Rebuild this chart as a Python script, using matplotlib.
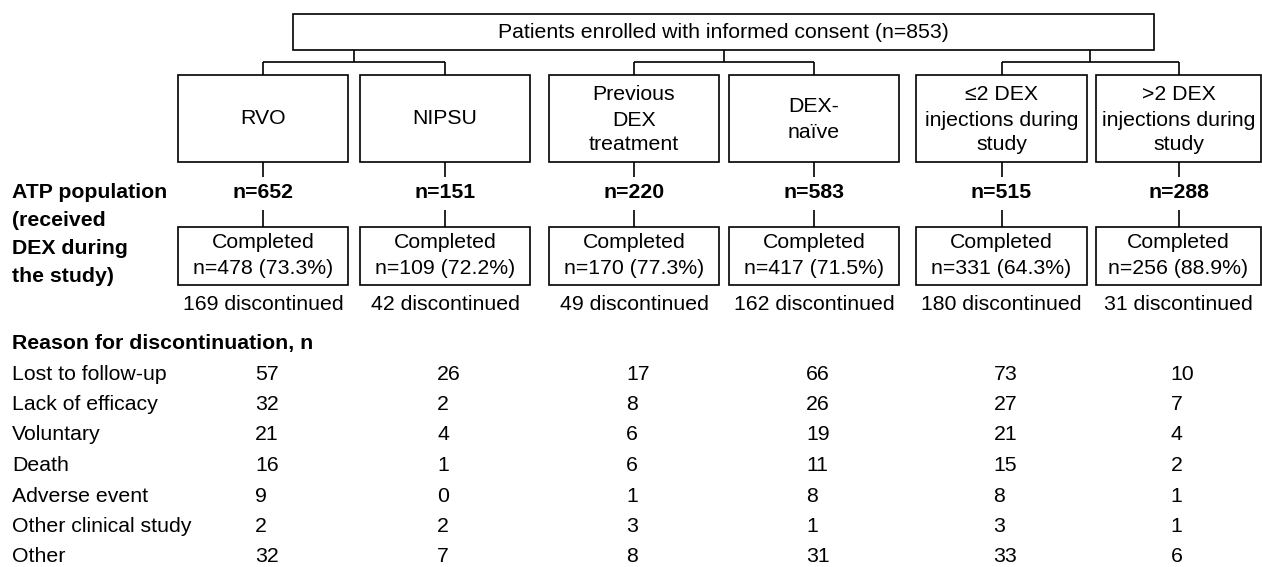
# flow chart of patient disposition by subgroup
import matplotlib.pyplot as plt
from matplotlib.patches import Rectangle

plt.rcParams['font.family'] = ['Liberation Sans', 'DejaVu Sans']

# Data
enrolled_label = "Patients enrolled with informed consent (n=853)"
groups = [["RVO"], ["NIPSU"], ["Previous", "DEX", "treatment"], ["DEX-", "naïve"],
          ["≤2 DEX", "injections during", "study"], [">2 DEX", "injections during", "study"]]
atp_n = [652, 151, 220, 583, 515, 288]
completed_n = [478, 109, 170, 417, 331, 256]
completed_pct = [73.3, 72.2, 77.3, 71.5, 64.3, 88.9]
discontinued = [169, 42, 49, 162, 180, 31]
atp_label = ["ATP population", "(received", "DEX during", "the study)"]

reasons = ["Lost to follow-up", "Lack of efficacy", "Voluntary", "Death",
           "Adverse event", "Other clinical study", "Other"]
lost_to_followup = [57, 26, 17, 66, 73, 10]
lack_of_efficacy = [32, 2, 8, 26, 27, 7]
voluntary = [21, 4, 6, 19, 21, 4]
death = [16, 1, 6, 11, 15, 2]
adverse_event = [9, 0, 1, 8, 8, 1]
other_clinical_study = [2, 2, 3, 1, 3, 1]
other = [32, 7, 8, 31, 33, 6]
reason_counts = [lost_to_followup, lack_of_efficacy, voluntary, death,
                 adverse_event, other_clinical_study, other]

# Layout (pixel coordinates, y downwards)
fig = plt.figure(figsize=(12.62, 5.67), dpi=100)
ax = fig.add_axes([0, 0, 1, 1])
ax.set_xlim(0, 1262)
ax.set_ylim(567, 0)
ax.axis('off')

fs = 15.3
lw = 1.2
box_left = [178, 360, 549, 729, 916, 1096]
box_w = [170, 170, 170, 170, 171, 165]
centers = [l + w / 2 for l, w in zip(box_left, box_w)]


def box(x0, y0, w, h):
    ax.add_patch(Rectangle((x0, y0), w, h, fill=False, ec='black', lw=lw))


def line(xs, ys):
    ax.plot(xs, ys, color='black', lw=lw, solid_capstyle='butt')


# top box
box(293, 14, 861, 36)
ax.text(723, 32, enrolled_label, ha='center', va='center', fontsize=fs)

# pair connectors
for i in range(0, 6, 2):
    mid = (centers[i] + centers[i + 1]) / 2
    line([mid, mid], [50, 62])
    line([centers[i], centers[i + 1]], [62, 62])
    line([centers[i], centers[i]], [62, 75])
    line([centers[i + 1], centers[i + 1]], [62, 75])

for i, c in enumerate(centers):
    # category box
    box(box_left[i], 75, box_w[i], 87)
    lines = groups[i]
    ys = {1: [119], 2: [106, 132], 3: [94, 120, 145]}[len(lines)]
    for t, y in zip(lines, ys):
        ax.text(c, y, t, ha='center', va='center', fontsize=fs)
    line([c, c], [162, 177])
    ax.text(c, 193, f"n={atp_n[i]}", ha='center', va='center', fontsize=fs, fontweight='bold')
    line([c, c], [210, 227])
    # completed box
    box(box_left[i], 227, box_w[i], 58)
    ax.text(c, 243, "Completed", ha='center', va='center', fontsize=fs)
    ax.text(c, 268, f"n={completed_n[i]} ({completed_pct[i]}%)", ha='center', va='center', fontsize=fs)
    ax.text(c, 305, f"{discontinued[i]} discontinued", ha='center', va='center', fontsize=fs)

for t, y in zip(atp_label, [193, 221, 249, 277]):
    ax.text(12, y, t, ha='left', va='center', fontsize=fs, fontweight='bold')

# reasons table
ax.text(12, 343, "Reason for discontinuation, n", ha='left', va='center', fontsize=fs, fontweight='bold')
for r, (reason, counts) in enumerate(zip(reasons, reason_counts)):
    y = 374 + r * 30.5
    ax.text(12, y, reason, ha='left', va='center', fontsize=fs)
    for c, v in zip(centers, counts):
        ax.text(c - 8, y, str(v), ha='left', va='center', fontsize=fs)

plt.savefig('out.png', dpi=100)
